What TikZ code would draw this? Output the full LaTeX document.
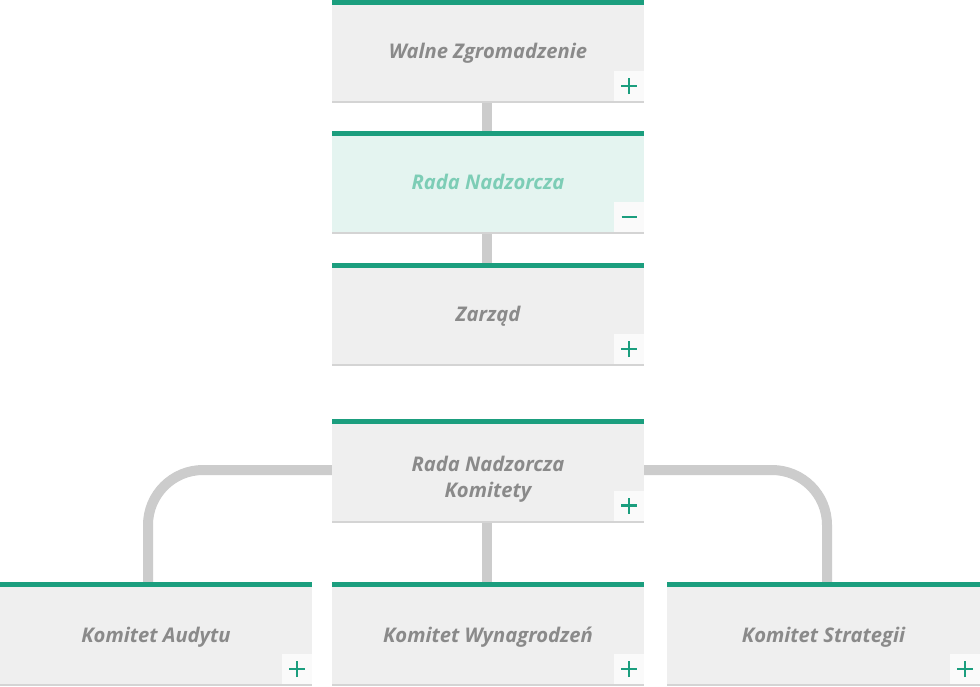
\documentclass[tikz,border=0pt]{standalone}
\usepackage{fontspec}
\setmainfont{Open Sans}
\definecolor{brand}{RGB}{27,158,126}
\definecolor{cardbg}{RGB}{239,239,239}
\definecolor{cardhl}{RGB}{228,244,240}
\definecolor{cardtext}{RGB}{138,138,138}
\definecolor{hltext}{RGB}{125,205,182}
\definecolor{connc}{RGB}{204,204,204}
\definecolor{shadowc}{RGB}{212,212,212}
\definecolor{pbfill}{RGB}{250,250,250}
\begin{document}
\begin{tikzpicture}[x=1pt,y=-1pt,
  card/.style={fill=cardbg, minimum width=312pt, minimum height=103pt, inner sep=0pt},
  hlcard/.style={card, fill=cardhl},
  lowcard/.style={card, minimum height=104pt},
  ctext/.style={inner sep=0pt, align=center, anchor=base, text=cardtext,
    font=\fontsize{20.2}{26}\selectfont\bfseries\itshape},
  hltext/.style={ctext, text=hltext},
  conn/.style={draw=connc, line width=10pt},
  pbox/.style={fill=pbfill, minimum width=30pt, minimum height=30pt, inner sep=0pt},
  sign/.style={draw=brand, line width=2.4pt}]
\useasboundingbox (0,0) rectangle (980,686);
\fill[white] (0,0) rectangle (980,686);

\node[card] (wz) at (488,51.5) {};
\node[hlcard] (rn) at (488,182.5) {};
\node[card] (zr) at (488,314.5) {};
\node[card] (rnk) at (488,471) {};
\node[lowcard] (ka) at (156,634) {};
\node[lowcard] (kw) at (488,634) {};
\node[lowcard, minimum width=313pt] (ks) at (823.5,634) {};

\foreach \n in {wz,rn,zr,rnk,ka,kw,ks}{
  \fill[brand] (\n.north west) rectangle ([yshift=-5]\n.north east);
  \fill[shadowc] (\n.south west) rectangle ([yshift=2]\n.south east);
}

\node[ctext] (wz-t) at ([yshift=-59]wz.north) {Walne Zgromadzenie};
\node[hltext] (rn-t) at ([yshift=-59]rn.north) {Rada Nadzorcza};
\node[ctext] (zr-t) at ([yshift=-59]zr.north) {Zarząd};
\node[ctext] (rnk-t) at ([yshift=-78.5]rnk.north) {Rada Nadzorcza\\Komitety};
\node[ctext] (ka-t) at ([yshift=-61]ka.north) {Komitet Audytu};
\node[ctext] (kw-t) at ([yshift=-61]kw.north) {Komitet Wynagrodzeń};
\node[ctext] (ks-t) at ([yshift=-61]ks.north) {Komitet Strategii};

\draw[conn] ([xshift=-1]wz.south) -- ([xshift=-1]rn.north);
\draw[conn] ([xshift=-1]rn.south) -- ([xshift=-1]zr.north);
\draw[conn] ([xshift=-1]rnk.south) -- ([xshift=-1]kw.north);
\draw[conn, rounded corners=55pt] ([yshift=1]rnk.west) -| ([xshift=-8]ka.north);
\draw[conn, rounded corners=55pt] ([yshift=1]rnk.east) -| ([xshift=3.5]ks.north);

\foreach \n in {wz,rn,zr,rnk,ka,kw,ks}{
  \node[pbox, anchor=south east] (\n-pb) at ([yshift=2]\n.south east) {};
}
\foreach \n in {wz,zr,rnk,ka,kw,ks}{
  \draw[sign] ([xshift=-8]\n-pb.center) -- ([xshift=8]\n-pb.center);
  \draw[sign] ([yshift=-8]\n-pb.center) -- ([yshift=8]\n-pb.center);
}
\draw[sign] ([xshift=-7.5]rn-pb.center) -- ([xshift=7.5]rn-pb.center);
\end{tikzpicture}
\end{document}
